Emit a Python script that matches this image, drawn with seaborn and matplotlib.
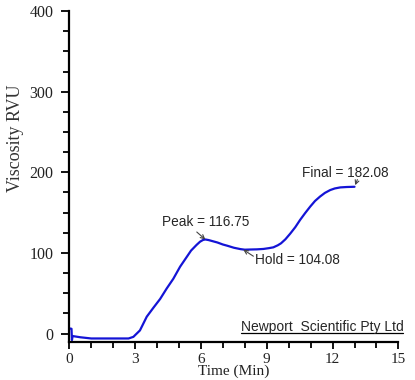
import matplotlib
matplotlib.use('Agg')
import matplotlib.pyplot as plt
import seaborn as sns
import pandas as pd
from matplotlib.ticker import MultipleLocator

# RVA viscosity trace
time_min = [0.0, 0.1, 0.12, 0.15, 0.5, 1.0, 2.7, 2.92, 3.07, 3.22, 3.53, 3.83,
            4.14, 4.44, 4.74, 5.05, 5.3, 5.55, 5.8, 5.96, 6.1, 6.2, 6.35, 6.55,
            6.75, 7.0, 7.2, 7.5, 7.8, 8.0, 8.25, 8.55, 8.85, 9.1, 9.3, 9.5, 9.65,
            9.85, 10.07, 10.3, 10.52, 10.75, 10.98, 11.2, 11.43, 11.65, 11.89,
            12.1, 12.35, 12.65, 13.0]
viscosity = [6.5, 6.0, -8.0, -3.0, -4.5, -6.0, -6.0, -4.0, 0.0, 4.0, 21.0, 32.0,
             43.0, 56.0, 68.0, 83.0, 93.0, 103.0, 110.0, 114.0, 116.2, 116.75,
             116.0, 114.5, 113.0, 110.5, 109.0, 106.5, 104.8, 104.08, 104.3,
             104.5, 105.0, 106.0, 107.0, 109.5, 112.0, 117.0, 124.0, 132.0,
             141.0, 149.5, 157.5, 164.5, 170.0, 174.5, 178.0, 180.0, 181.3,
             181.8, 182.08]

peak_t, peak_v = 6.2, 116.75
hold_t, hold_v = 8.0, 104.08
final_t, final_v = 13.0, 182.08

df = pd.DataFrame({'Time': time_min, 'Viscosity': viscosity})

sns.set_style('ticks')
plt.rcParams['font.family'] = ['Liberation Serif', 'DejaVu Serif']

fig = plt.figure(figsize=(4.15, 3.8), dpi=100)
ax = fig.add_axes([0.167, 0.1008, 0.793, 0.8702])

sns.lineplot(x='Time', y='Viscosity', data=df, color='#1414d6', linewidth=1.6,
             sort=False, ax=ax)

ax.set_xlim(0, 15)
ax.set_ylim(-10, 400)
ax.xaxis.set_major_locator(MultipleLocator(3))
ax.xaxis.set_minor_locator(MultipleLocator(1))
ax.yaxis.set_major_locator(MultipleLocator(100))
ax.yaxis.set_minor_locator(MultipleLocator(25))
ax.tick_params(axis='both', which='major', width=1.3, color='black',
               labelcolor='#222222')
ax.tick_params(axis='y', which='major', length=6, pad=5.5, labelsize=11.5)
ax.tick_params(axis='y', which='minor', length=4, width=1.3, color='black')
ax.tick_params(axis='x', which='major', length=5, pad=3, labelsize=11)
ax.tick_params(axis='x', which='minor', length=4, width=1.3, color='black')
sns.despine(ax=ax)
for s in ['left', 'bottom']:
    ax.spines[s].set_linewidth(1.6)
    ax.spines[s].set_color('black')

ax.set_xlabel('Time (Min)', fontsize=11, labelpad=-1, color='#222222')
ax.set_ylabel('Viscosity RVU', fontsize=13, va='center', color='#333333')
ax.yaxis.set_label_coords(-0.165, 0.615)

arrow = dict(arrowstyle='->', color='#444444', lw=0.8, shrinkA=0, shrinkB=0,
             mutation_scale=7)
sans = ['Liberation Sans', 'DejaVu Sans']
ax.annotate(f'Peak = {peak_v:.2f}', xy=(peak_t, peak_v), xytext=(4.21, 138.6),
            fontsize=9.8, family=sans, va='center', ha='left')
ax.annotate('', xy=(peak_t, peak_v), xytext=(5.81, 126), arrowprops=arrow)
ax.annotate(f'Hold = {hold_v:.2f}', xy=(hold_t, hold_v), xytext=(8.47, 91),
            fontsize=9.8, family=sans, va='center', ha='left')
ax.annotate('', xy=(7.93, hold_v), xytext=(8.39, 96), arrowprops=arrow)
ax.annotate(f'Final = {final_v:.2f}', xy=(final_t, final_v), xytext=(10.62, 199.4),
            fontsize=9.8, family=sans, va='center', ha='left')
ax.annotate('', xy=(final_t + 0.03, final_v + 2), xytext=(13.13, 191),
            arrowprops=arrow)

brand = ax.text(1.015, 0.045, 'Newport  Scientific Pty Ltd', transform=ax.transAxes,
                ha='right', va='center', fontsize=10, family=sans)
fig.canvas.draw()
bb = brand.get_window_extent().transformed(ax.transAxes.inverted())
ax.plot([bb.x0, bb.x1], [0.027, 0.027], transform=ax.transAxes, color='black',
        lw=0.9, clip_on=False)

fig.savefig('out.png', dpi=100)
